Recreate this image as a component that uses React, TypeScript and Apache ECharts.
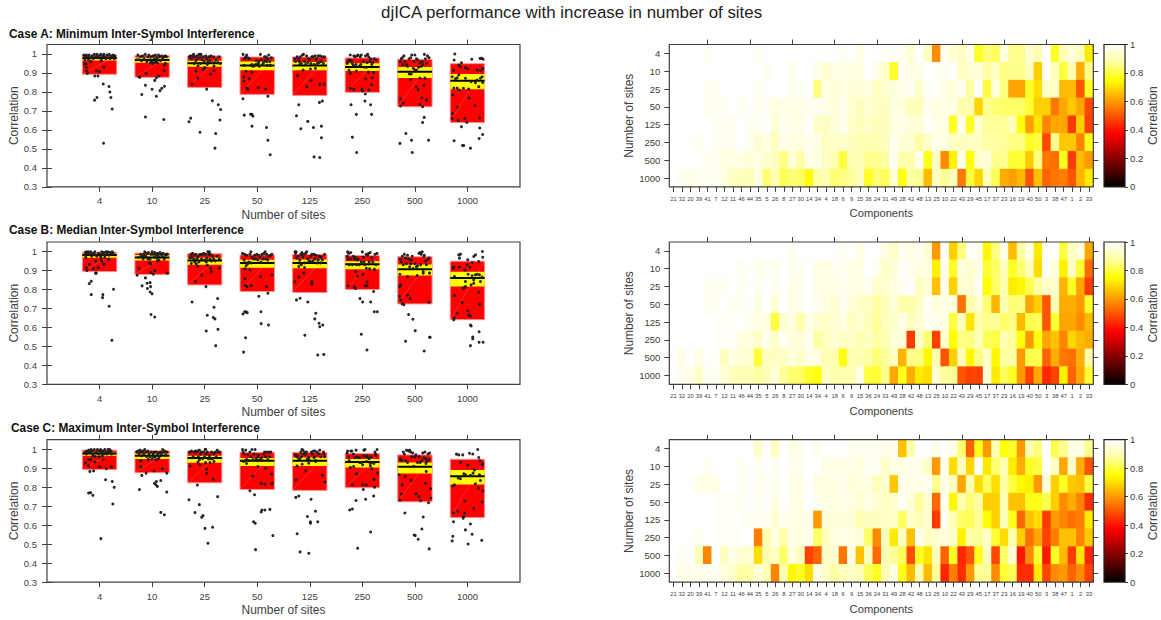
import React, { useEffect, useRef } from "react";
import * as echarts from "echarts";

const FONT = "Liberation Sans";
const INK = "#404040";
const sites = ["4", "10", "25", "50", "125", "250", "500", "1000"];
const components = ["21","32","20","39","41","7","12","11","46","44","35","5","26","8","27","30","14","34","4","18","6","9","15","36","24","31","49","28","42","48","13","25","10","22","43","29","45","17","37","23","16","19","40","50","3","38","47","1","2","33"];
const yTicks = [0.3, 0.4, 0.5, 0.6, 0.7, 0.8, 0.9, 1];
const xTicks = [1, 2, 3, 4, 5, 6, 7, 8];
const cases = ["Case A: Minimum Inter-Symbol Interference", "Case B: Median Inter-Symbol Interference", "Case C: Maximum Inter-Symbol Interference"];

const boxTopA = [.993,.991,.989,.984,.984,.979,.972,.949];
const boxBottomA = [.893,.877,.824,.787,.782,.798,.722,.639];
const ciTopA = [.986,.982,.965,.96,.958,.951,.931,.895];
const ciBottomA = [.966,.954,.933,.914,.914,.91,.873,.814];
const meanA = [.979,.968,.951,.94,.94,.931,.907,.859];
const boxTopB = [.996,.991,.988,.982,.984,.979,.972,.949];
const boxBottomB = [.894,.879,.824,.789,.784,.8,.724,.641];
const ciTopB = [.989,.981,.967,.956,.958,.949,.931,.893];
const ciBottomB = [.967,.953,.93,.914,.912,.907,.873,.815];
const meanB = [.981,.968,.953,.94,.94,.933,.907,.86];
const boxTopC = [.995,.991,.988,.983,.983,.977,.97,.947];
const boxBottomC = [.893,.876,.823,.788,.783,.797,.723,.64];
const ciTopC = [.984,.977,.965,.954,.956,.949,.93,.891];
const ciBottomC = [.965,.949,.928,.912,.911,.904,.872,.814];
const meanC = [.977,.965,.953,.939,.939,.932,.907,.858];

const dotsA = [
[[.076,.53],[-.095,.757],[-.05,.771],[.07,.842],[.18,.829],[.196,.8],[.215,.771],[.24,.71],[-.09,.884],[-.03,.884],[-.23,.898],[-.06,.912],[0,.907],[-.24,.91],[.08,.931],[-.25,.93],[-.165,.96],[-.29,.948],[-.26,.948],[-.28,.97],[-.3,.995],[-.27,.985],[-.25,.995],[-.22,.985],[-.2,.995],[-.17,.98],[-.14,.99],[-.12,.975],[-.1,.998],[-.07,.985],[-.05,.998],[-.03,.98],[-.01,.99],[.02,.998],[.04,.975],[.06,.99],[.08,.998],[.1,.985],[.12,.975],[.14,.995],[.16,.98],[.18,.998],[.2,.975],[.22,.99],[.24,.985],[.26,.995],[.28,.975],[.29,.99],[-.21,.97],[.03,.965]],
[[-.127,.668],[.222,.655],[-.196,.787],[-.127,.835],[0,.814],[.082,.777],[.15,.807],[.184,.819],[.234,.83],[.133,.884],[.082,.875],[.05,.861],[.228,.912],[-.247,.88],[-.235,.877],[-.114,.898],[.234,.942],[.253,.951],[-.27,.995],[-.25,.97],[-.22,.985],[-.2,.965],[-.18,.99],[-.15,.975],[-.13,.998],[-.1,.96],[-.08,.985],[-.06,.995],[-.04,.97],[-.02,.985],[0,.96],[.02,.99],[.04,.975],[.06,.995],[.07,.96],[.09,.98],[.11,.97],[.12,.995],[.14,.985],[.16,.965],[.18,.99],[.2,.975],[.22,.985],[.25,.99],[-.29,.97],[.27,.985],[.01,.95],[.05,.955],[-.03,.955],[.1,.955]],
[[-.298,.643],[-.266,.662],[-.089,.588],[.21,.581],[.196,.504],[.29,.652],[.304,.708],[.26,.733],[.146,.754],[.038,.815],[-.24,.842],[-.127,.873],[.114,.893],[-.165,.909],[-.025,.919],[0,.928],[.177,.912],[.177,.937],[-.127,.938],[-.29,.985],[-.27,.99],[-.25,.975],[-.23,.99],[-.21,.998],[-.19,.985],[-.17,.965],[-.15,.99],[-.13,.975],[-.11,.998],[-.09,.985],[-.07,.998],[-.05,.97],[-.03,.985],[-.01,.96],[.02,.99],[.04,.975],[.06,.96],[.08,.985],[.1,.965],[.12,.99],[.15,.955],[.17,.985],[.2,.955],[.22,.97],[.25,.955],[.27,.985],[.29,.95],[-.2,.95],[-.08,.95],[.05,.945]],
[[.247,.469],[.203,.546],[.177,.613],[-.1,.62],[-.247,.678],[-.127,.683],[-.1,.682],[-.082,.673],[-.272,.764],[.203,.778],[-.177,.815],[-.2,.819],[.02,.822],[.158,.815],[-.253,.88],[-.253,.858],[-.152,.87],[-.215,.909],[-.1,.905],[-.27,.998],[-.24,.975],[-.22,.985],[-.2,.995],[-.18,.98],[-.15,.975],[-.12,.94],[-.1,.945],[-.08,.935],[-.05,.94],[-.03,.945],[0,.945],[.02,.95],[.04,.935],[.06,.998],[.08,.97],[.1,.945],[.12,.955],[.14,.985],[.15,.965],[.17,.985],[.19,.94],[.2,.975],[.22,.995],[.24,.96],[.25,.94],[.27,.98],[-.25,.94],[.03,.96],[-.02,.965],[.18,.96]],
[[.082,.458],[.19,.455],[-.171,.606],[.07,.613],[.222,.62],[.222,.559],[-.038,.645],[-.253,.675],[-.21,.733],[.184,.745],[.24,.752],[.025,.861],[-.057,.828],[.19,.84],[.272,.84],[-.234,.886],[-.127,.916],[.013,.921],[.108,.924],[-.29,.975],[-.27,.96],[-.24,.985],[-.22,.975],[-.2,.96],[-.18,.985],[-.16,.95],[-.14,.995],[-.12,.998],[-.1,.96],[-.08,.945],[-.06,.99],[-.04,.955],[-.02,.975],[0,.97],[.02,.95],[.04,.985],[.06,.985],[.08,.945],[.1,.99],[.12,.97],[.14,.95],[.16,.99],[.18,.955],[.2,.99],[.22,.96],[.24,.985],[.26,.95],[.28,.985],[.13,.975],[-.19,.945]],
[[-.108,.481],[-.19,.562],[-.114,.682],[.177,.682],[-.215,.733],[.05,.752],[.158,.733],[.057,.789],[-.228,.819],[-.165,.814],[-.006,.814],[0,.805],[.12,.81],[.177,.838],[.063,.868],[.19,.875],[-.228,.898],[-.114,.91],[.114,.905],[.215,.903],[-.253,.914],[-.29,.95],[-.27,.96],[-.25,.97],[-.23,.995],[-.21,.965],[-.19,.95],[-.16,.99],[-.14,.985],[-.12,.945],[-.1,.99],[-.08,.995],[-.06,.935],[-.04,.985],[-.02,.995],[.02,.96],[.04,.93],[.06,.99],[.09,.955],[.1,.998],[.12,.985],[.14,.96],[.16,.975],[.2,.955],[.23,.975],[.26,.97],[.08,.93],[-.03,.945],[.18,.945],[-.17,.94]],
[[-.285,.529],[-.05,.481],[-.171,.581],[-.063,.546],[.26,.546],[.146,.639],[.177,.666],[-.272,.726],[-.222,.741],[-.272,.763],[.146,.722],[.095,.734],[.133,.768],[.222,.757],[.171,.835],[.025,.826],[.063,.812],[-.082,.866],[.095,.873],[.19,.873],[-.108,.895],[-.07,.895],[0,.916],[-.28,.96],[-.26,.975],[-.24,.98],[-.21,.99],[-.19,.96],[-.16,.945],[-.14,.935],[-.11,.975],[-.08,.98],[-.06,.995],[-.02,.96],[0,.995],[.03,.975],[.05,.97],[.07,.93],[.1,.955],[.12,.935],[.14,.96],[.18,.998],[.2,.975],[.24,.99],[.27,.98],[.15,.945],[-.03,.925],[.03,.915],[.23,.95],[-.23,.945]],
[[-.253,.543],[-.095,.518],[-.07,.518],[.057,.504],[.222,.555],[.29,.576],[.234,.61],[-.114,.617],[-.013,.639],[-.05,.66],[.234,.664],[-.177,.65],[-.29,.66],[-.285,.687],[-.196,.72],[.14,.729],[.032,.768],[-.279,.784],[-.152,.81],[-.076,.819],[.025,.815],[-.266,.914],[-.29,.88],[-.196,.875],[-.228,.87],[-.165,.889],[-.038,.928],[.006,.921],[.247,.912],[.184,.916],[.291,.923],[.247,.872],[.184,.863],[.152,.849],[.279,.88],[-.133,.933],[-.165,.942],[-.114,.954],[.082,.972],[-.253,.968],[-.24,1],[.24,.977],[.272,.977],[.298,.972],[-.038,.872],[-.26,.82],[.07,.854],[-.196,.82],[.215,.828],[.29,.85]],
];
const dotsB = [
[[.234,.532],[.184,.712],[.266,.801],[.057,.757],[.063,.773],[-.158,.773],[-.196,.831],[-.158,.843],[-.076,.886],[-.063,.886],[-.24,.9],[-.253,.914],[-.114,.91],[-.03,.914],[-.196,.933],[-.076,.949],[.044,.949],[.082,.933],[.171,.96],[-.28,.98],[-.27,.995],[-.25,.998],[-.23,.99],[-.21,.998],[-.19,.985],[-.17,.998],[-.15,.975],[-.13,.99],[-.11,.985],[-.09,.998],[-.07,.98],[-.05,.975],[-.02,.99],[0,.985],[.02,.975],[.04,.998],[.06,.985],[.08,.995],[.1,.98],[.12,.998],[.14,.985],[.16,.998],[.18,.98],[.2,.995],[.22,.985],[.24,.998],[.26,.99],[-.26,.97],[.1,.97],[.03,.965]],
[[-.02,.668],[.05,.655],[0,.777],[-.038,.787],[-.089,.805],[-.03,.815],[-.19,.819],[-.095,.833],[-.038,.836],[-.127,.861],[-.285,.875],[-.247,.91],[-.02,.889],[.025,.88],[.05,.9],[.291,.886],[-.26,.97],[-.22,.985],[-.2,.975],[-.17,.96],[-.16,.985],[-.14,.998],[-.12,.975],[-.1,.99],[-.08,.96],[-.07,.995],[-.05,.94],[-.03,.935],[-.02,.985],[0,.998],[.02,.985],[.04,.97],[.05,.995],[.07,.98],[.09,.965],[.1,.99],[.12,.975],[.13,.955],[.15,.995],[.17,.985],[.19,.975],[.21,.99],[.23,.96],[.25,.98],[.27,.985],[.29,.985],[-.04,.96],[.1,.95],[.11,.985],[-.15,.975]],
[[.03,.581],[.21,.504],[.253,.59],[.05,.664],[.165,.652],[.196,.645],[.177,.706],[.247,.752],[-.24,.734],[.025,.815],[-.171,.843],[-.057,.875],[.127,.894],[-.127,.921],[.05,.928],[.114,.912],[.279,.912],[-.158,.935],[-.253,.937],[-.28,.965],[-.26,.985],[-.25,.97],[-.23,.99],[-.21,.96],[-.19,.98],[-.17,.985],[-.15,.96],[-.13,.97],[-.1,.98],[-.08,.985],[-.06,.96],[-.04,.985],[-.02,.99],[0,.955],[.02,.985],[.04,.965],[.06,.998],[.08,.985],[.09,.998],[.1,.96],[.11,.985],[.13,.95],[.15,.975],[.17,.96],[.2,.95],[.24,.975],[.28,.96],[-.11,.945],[.03,.945],[-.19,.945]],
[[-.26,.47],[-.222,.546],[-.272,.671],[-.24,.682],[-.19,.678],[-.215,.682],[.07,.683],[.076,.62],[.215,.613],[.03,.764],[.203,.78],[.177,.815],[-.222,.82],[-.19,.815],[-.114,.82],[-.234,.858],[.063,.868],[.285,.877],[-.234,.909],[-.139,.903],[-.28,.99],[-.25,.955],[-.24,.985],[-.22,.94],[-.2,.98],[-.18,.935],[-.16,.945],[-.14,.985],[-.12,.998],[-.1,.97],[-.07,.96],[-.05,.98],[-.03,.96],[-.01,.985],[.01,.955],[.03,.98],[.05,.97],[.07,.945],[.09,.985],[.11,.96],[.13,.99],[.15,.998],[.16,.96],[.18,.985],[.2,.955],[.22,.975],[.25,.98],[.28,.985],[-.21,.925],[-.12,.94]],
[[.152,.455],[.266,.458],[-.095,.559],[.19,.604],[.247,.613],[.177,.622],[.095,.645],[.114,.675],[-.038,.734],[-.184,.754],[-.253,.745],[.038,.84],[.038,.829],[-.285,.84],[-.209,.865],[-.114,.886],[-.209,.921],[-.101,.916],[-.28,.998],[-.26,.998],[-.27,.99],[-.25,.965],[-.22,.975],[-.19,.955],[-.17,.985],[-.15,.995],[-.13,.97],[-.12,.985],[-.1,.94],[-.08,.99],[-.06,.998],[-.04,.96],[-.02,.945],[0,.95],[.02,.975],[.04,.985],[.06,.95],[.08,.985],[.1,.96],[.12,.98],[.14,.94],[.16,.955],[.18,.975],[.2,.94],[.24,.955],[.28,.985],[-.2,.94],[.05,.945],[.22,.97],[-.16,.93]],
[[.089,.481],[-.019,.564],[.228,.683],[.285,.683],[-.044,.752],[.006,.734],[.158,.734],[.215,.789],[-.272,.819],[-.152,.815],[-.133,.805],[.057,.819],[.089,.819],[.089,.84],[-.089,.87],[.006,.88],[-.127,.894],[.228,.907],[.139,.909],[.076,.912],[-.28,.998],[-.29,.975],[-.27,.96],[-.26,.99],[-.25,.93],[-.22,.96],[-.22,.995],[-.19,.93],[-.17,.975],[-.15,.96],[-.13,.97],[-.1,.955],[-.08,.96],[-.06,.93],[-.02,.945],[0,.998],[.02,.97],[.03,.945],[.07,.985],[.1,.98],[.12,.99],[.13,.945],[.15,.995],[.18,.965],[.2,.945],[.24,.985],[.28,.99],[.26,.93],[-.11,.93],[.05,.93]],
[[.177,.476],[-.177,.527],[.279,.548],[.291,.548],[.006,.583],[-.12,.668],[-.038,.643],[-.209,.72],[-.24,.724],[-.272,.745],[-.291,.764],[-.089,.752],[-.139,.77],[.266,.733],[-.29,.815],[-.272,.824],[-.139,.868],[.044,.873],[-.285,.88],[.158,.886],[.279,.886],[.158,.894],[-.28,.96],[-.26,.945],[-.24,.975],[-.22,.93],[-.2,.985],[-.18,.965],[-.16,.935],[-.14,.98],[-.12,.96],[-.1,.92],[-.08,.935],[-.05,.975],[-.03,.91],[0,.935],[.03,.92],[.08,.99],[.1,.995],[.12,.985],[.14,.998],[.17,.975],[.2,.95],[.22,.93],[.24,.955],[.27,.965],[.18,.98],[-.07,.955],[.05,.925],[.11,.93]],
[[.057,.504],[.222,.522],[.298,.522],[.101,.55],[.101,.54],[.222,.577],[.057,.613],[.07,.608],[-.26,.64],[-.247,.65],[-.196,.675],[-.101,.731],[.006,.689],[.025,.666],[.057,.66],[-.247,.768],[.234,.722],[.215,.785],[-.057,.81],[-.038,.815],[-.272,.912],[-.26,.92],[-.152,.917],[-.247,.868],[-.152,.965],[-.165,.982],[-.133,.986],[.006,.956],[.12,.974],[.152,.982],[.291,.97],[.285,1],[.215,.947],[.089,.942],[-.006,.93],[.044,.917],[-.05,.903],[.013,.88],[.089,.872],[.152,.877],[.184,.88],[.228,.877],[.279,.865],[.12,.85],[-.038,.842],[.07,.824],[-.082,.807],[.12,.833],[.247,.842]],
];
const dotsC = [
[[.025,.529],[.253,.711],[.279,.799],[.241,.83],[.114,.839],[-.209,.769],[-.171,.771],[-.127,.757],[-.184,.883],[-.114,.886],[.127,.897],[0,.907],[.222,.907],[-.209,.912],[-.266,.928],[-.089,.932],[.07,.947],[-.209,.946],[-.165,.946],[-.082,.961],[-.27,.985],[-.25,.975],[-.24,.99],[-.22,.985],[-.2,.995],[-.18,.98],[-.16,.998],[-.14,.99],[-.12,.975],[-.1,.998],[-.06,.985],[-.04,.998],[-.02,.975],[0,.99],[.02,.998],[.04,.98],[.06,.99],[.08,.975],[.1,.998],[.12,.985],[.14,.975],[.16,.998],[.17,.985],[.19,.998],[.2,.98],[.22,.99],[.23,.975],[.05,.965],[-.13,.965],[-.01,.96]],
[[.165,.667],[.234,.655],[-.241,.788],[.044,.821],[.07,.813],[.1,.804],[.082,.83],[.165,.835],[.279,.774],[-.196,.862],[-.114,.874],[.038,.886],[.196,.897],[.279,.874],[-.215,.907],[-.215,.939],[-.29,.985],[-.27,.99],[-.25,.975],[-.23,.995],[-.21,.985],[-.2,.965],[-.18,.99],[-.16,.975],[-.14,.998],[-.12,.985],[-.1,.96],[-.08,.99],[-.06,.975],[-.04,.96],[-.02,.985],[0,.95],[.02,.975],[.04,.985],[.06,.96],[.08,.985],[.1,.97],[.12,.95],[.14,.96],[.16,.985],[.18,.975],[.2,.998],[.22,.985],[.24,.99],[.26,.97],[.28,.985],[.07,.945],[-.07,.945],[.13,.98],[.03,.96]],
[[.063,.505],[.006,.583],[.152,.589],[-.057,.641],[-.032,.65],[-.184,.666],[-.101,.708],[-.298,.734],[.247,.75],[-.139,.811],[.165,.842],[.038,.872],[.038,.895],[-.279,.912],[-.095,.918],[-.127,.932],[.177,.935],[.019,.93],[-.29,.985],[-.27,.985],[-.25,.99],[-.22,.96],[-.2,.985],[-.18,.99],[-.16,.985],[-.14,.99],[-.12,.96],[-.1,.995],[-.08,.975],[-.06,.985],[-.04,.95],[-.02,.985],[0,.96],[.02,.998],[.03,.975],[.05,.985],[.07,.95],[.09,.965],[.11,.95],[.13,.985],[.15,.95],[.17,.975],[.2,.985],[.22,.96],[.24,.995],[.26,.985],[.29,.985],[-.1,.945],[.1,.93],[.01,1]],
[[-.032,.471],[.298,.545],[-.07,.618],[-.038,.61],[.076,.669],[.089,.68],[.146,.68],[.241,.683],[-.139,.781],[-.051,.76],[.076,.821],[.146,.816],[.279,.818],[.285,.821],[-.089,.858],[.272,.869],[.013,.909],[.158,.9],[-.203,.925],[-.28,.998],[-.27,.985],[-.25,.975],[-.23,.94],[-.22,.995],[-.2,.945],[-.18,.97],[-.16,.94],[-.14,.985],[-.12,.96],[-.1,.998],[-.08,.945],[-.06,.975],[-.04,.998],[-.02,.95],[0,.94],[.02,.97],[.05,.945],[.08,.955],[.1,.94],[.12,.975],[.14,.985],[.16,.96],[.18,.985],[.2,.945],[.22,.985],[.24,.96],[.26,.985],[-.26,.935],[.01,.96]],
[[-.019,.452],[-.184,.459],[-.241,.555],[.152,.618],[.013,.61],[.013,.617],[-.044,.645],[.108,.673],[.025,.736],[-.209,.753],[-.266,.746],[-.266,.839],[.291,.827],[.241,.863],[-.076,.886],[-.241,.912],[-.146,.921],[-.019,.926],[.114,.935],[-.27,.97],[-.25,.96],[-.23,.965],[-.21,.95],[-.19,.95],[-.17,.985],[-.16,.96],[-.15,.998],[-.13,.995],[-.12,.975],[-.1,.985],[-.08,.97],[-.06,.985],[-.04,.95],[-.02,.955],[0,.94],[.03,.985],[.05,.975],[.07,.99],[.08,.955],[.09,.96],[.1,.99],[.12,.94],[.14,.985],[.17,.975],[.19,.995],[.21,.96],[.26,.985],[.28,.96],[.27,.975],[-.05,.945]],
[[-.089,.478],[.158,.564],[-.241,.68],[-.19,.685],[-.12,.73],[.063,.736],[.215,.753],[.019,.788],[.234,.8],[-.19,.813],[.006,.814],[.076,.813],[.222,.841],[-.108,.87],[.291,.874],[.184,.897],[-.228,.904],[-.165,.909],[.006,.918],[.152,.912],[-.29,.98],[-.28,.99],[-.26,.96],[-.25,.94],[-.22,.99],[-.2,.99],[-.17,.975],[-.14,.955],[-.12,.995],[-.1,.96],[-.08,.955],[-.05,.955],[-.02,.93],[.02,.965],[.03,.995],[.05,.998],[.07,.96],[.09,.965],[.11,.955],[.13,.95],[.15,.925],[.17,.96],[.19,.93],[.22,.925],[.24,.985],[.25,.975],[.26,.965],[.28,.998],[.08,.935],[-.05,.93]],
[[.272,.475],[.063,.526],[-.013,.548],[.006,.545],[.133,.58],[.158,.643],[-.19,.664],[-.285,.732],[.025,.765],[.076,.75],[.108,.729],[.26,.718],[.304,.743],[-.26,.764],[-.241,.813],[.298,.792],[-.07,.835],[.203,.821],[-.184,.856],[-.298,.865],[.215,.883],[-.28,.945],[-.27,.95],[-.25,.94],[-.22,.985],[-.2,.975],[-.18,.94],[-.16,.995],[-.14,.93],[-.12,.99],[-.1,.995],[-.08,.985],[-.06,.96],[-.04,.98],[-.02,.91],[0,.96],[.02,.97],[.05,.93],[.08,.96],[.1,.93],[.13,.94],[.15,.98],[.17,.955],[.19,.985],[.21,.95],[.25,.975],[.28,.98],[.21,.925],[.23,.935],[.27,.945]],
[[.013,.501],[.272,.52],[-.291,.517],[-.279,.541],[.089,.552],[-.038,.575],[.057,.606],[-.266,.618],[-.082,.636],[-.07,.645],[-.051,.664],[-.184,.673],[-.266,.664],[.12,.688],[.279,.722],[-.051,.727],[.291,.781],[.215,.795],[-.279,.806],[-.247,.813],[.247,.835],[.152,.818],[-.133,.844],[-.177,.848],[-.038,.865],[.057,.862],[-.07,.87],[.108,.874],[.133,.891],[.228,.865],[.279,.918],[.291,.926],[.234,.939],[.215,.956],[.196,.998],[.101,.975],[.038,.979],[-.089,.97],[-.165,.97],[-.209,.974],[-.127,.93],[.006,.916]],
];

// Percent correlation per site row (4 ... 1000), one value per component in axis order.
const heatA = [
[100,100,100,100,98,100,100,100,100,100,98,100,100,100,100,100,100,100,100,100,98,100,97,100,100,98,100,98,94,100,92,58,98,94,92,97,78,84,82,96,86,86,94,90,100,78,90,95,91,72],
[100,100,100,100,100,100,100,100,100,100,100,98,100,100,98,100,100,97,94,97,97,96,96,100,97,93,78,98,97,97,100,99,98,100,92,94,95,88,92,85,86,86,92,68,100,91,80,90,63,86],
[100,100,100,100,98,98,100,100,100,100,98,100,100,100,98,98,100,85,96,95,96,95,95,96,92,94,95,97,98,93,99,99,96,95,98,88,100,80,96,85,62,62,78,70,93,93,65,65,50,78],
[100,100,100,100,98,98,98,100,98,100,98,98,96,97,97,97,98,98,97,95,98,94,92,94,92,92,96,95,91,91,98,96,96,96,89,90,69,86,84,83,83,83,79,68,68,55,62,67,62,48],
[100,100,100,100,100,98,98,98,100,98,98,100,94,98,97,97,100,93,92,95,98,93,92,93,91,92,96,97,95,95,99,97,96,78,98,78,94,87,87,87,91,76,61,71,57,62,62,46,68,47],
[100,100,100,98,100,98,98,98,100,98,94,96,92,97,96,96,98,96,92,93,93,92,90,90,90,92,98,95,94,88,93,97,96,92,92,92,92,88,88,87,85,85,78,80,48,86,67,67,57,77],
[100,100,100,100,98,98,96,96,96,95,96,94,92,85,95,88,97,96,92,90,80,90,90,86,86,88,98,89,89,98,77,92,58,73,98,75,93,95,86,86,79,79,67,85,55,54,77,46,65,60],
[100,98,97,98,98,98,96,92,91,91,96,84,90,82,84,83,75,88,90,84,85,87,92,78,84,82,94,76,88,87,65,92,87,91,55,80,69,90,82,63,61,65,50,66,52,55,56,50,64,72],
];
const heatB = [
[100,100,100,100,100,100,100,100,100,100,100,100,100,100,98,100,100,100,100,100,98,100,97,100,100,96,93,98,97,98,94,60,100,68,85,99,98,74,85,97,65,88,97,72,100,100,80,92,96,62],
[100,100,100,100,100,100,100,100,98,100,98,98,98,100,98,98,100,97,96,98,98,97,97,100,98,93,95,99,98,96,96,73,98,78,96,94,97,79,83,91,78,84,91,70,100,95,73,92,79,53],
[100,100,100,100,98,98,98,100,98,100,98,100,98,100,97,98,100,97,96,97,98,97,96,98,93,94,96,98,100,92,94,66,98,68,94,94,98,75,83,89,72,74,81,88,93,93,64,78,62,46],
[100,100,100,100,98,98,100,98,98,100,96,100,94,100,97,98,100,98,96,94,98,95,93,92,88,91,95,89,89,92,99,95,97,95,54,89,94,84,64,90,84,85,62,68,50,90,63,63,60,78],
[100,100,100,100,100,99,99,99,100,98,96,96,80,94,96,89,97,94,93,94,96,92,94,91,87,91,93,97,92,94,98,98,96,80,91,71,88,86,87,83,85,65,81,82,50,79,62,62,58,65],
[100,100,100,100,100,99,99,99,96,96,93,98,93,98,95,95,98,88,92,94,92,93,90,92,88,90,95,95,46,92,84,47,94,75,85,85,91,82,80,90,87,76,60,76,62,66,57,69,65,63],
[100,97,100,96,100,99,92,96,95,94,79,92,92,92,96,93,97,96,90,90,76,90,90,88,84,87,92,64,86,85,74,90,50,68,91,74,85,93,74,88,88,60,81,81,52,63,55,54,63,89],
[100,98,97,93,98,98,95,91,90,90,88,91,95,87,84,83,78,76,92,89,89,90,96,80,79,86,62,77,63,72,70,94,87,87,50,47,47,95,72,82,78,60,47,62,43,47,73,52,62,79],
];
const heatC = [
[100,100,100,100,100,100,100,100,100,100,93,100,92,100,97,98,100,98,100,100,100,98,98,98,98,97,98,66,89,100,100,98,100,97,84,52,77,60,90,76,78,60,90,85,100,81,86,96,96,86],
[100,100,100,100,98,100,100,100,98,100,98,100,98,100,98,98,100,100,97,97,97,97,96,98,98,93,96,96,98,97,93,60,98,70,92,69,99,72,84,90,72,63,78,80,100,92,62,93,63,50],
[100,100,100,97,97,97,100,100,98,100,98,98,98,100,97,97,100,96,96,96,98,95,96,96,91,94,67,97,97,97,98,86,97,92,62,90,70,82,70,88,80,74,73,60,95,68,78,67,66,80],
[100,100,100,100,100,99,99,99,98,100,98,100,96,100,97,97,100,98,96,96,97,96,94,97,94,92,94,99,95,87,94,53,98,74,90,84,88,68,68,90,66,66,77,77,81,68,58,63,57,44],
[100,100,100,100,100,99,99,99,99,98,98,98,94,98,97,96,98,60,95,95,95,95,90,92,92,93,93,82,93,91,94,46,98,90,83,82,87,75,68,91,77,53,66,70,46,60,57,54,56,72],
[100,100,100,98,100,99,99,99,99,100,56,90,96,89,97,96,98,83,91,96,97,96,95,83,58,91,72,93,66,98,92,94,95,93,73,89,87,93,79,70,90,68,54,62,47,56,66,66,57,67],
[100,98,100,91,57,99,92,97,94,94,70,90,92,83,96,91,47,52,93,94,55,96,66,92,53,90,87,82,49,78,71,91,52,78,43,50,77,92,48,83,94,41,58,79,41,78,65,46,71,43],
[100,97,98,97,98,98,96,93,88,89,95,90,57,90,74,78,70,96,93,88,91,93,90,82,78,90,96,77,65,90,65,87,43,56,44,60,87,87,58,79,82,44,44,72,48,58,60,52,58,47],
];

const rowTops = [44.5, 242, 439.7];
const titleTops = [23, 219, 417];
const titleLefts = [4, 4, 6];
const colormap = ["#000000", "#550000", "#aa0000", "#ff0000", "#ff5500", "#ffaa00", "#ffff00", "#ffffa0", "#ffffff"];
const HALF = 0.327;

function renderBox(_: any, api: any) {
  const x = api.value(0);
  const tl = api.coord([x - HALF, api.value(1)]);
  const br = api.coord([x + HALF, api.value(2)]);
  const w = br[0] - tl[0];
  const ciTop = api.coord([x, api.value(3)])[1];
  const ciBot = api.coord([x, api.value(4)])[1];
  const mean = api.coord([x, api.value(5)])[1];
  return {
    type: "group",
    children: [
      { type: "rect", shape: { x: tl[0], y: tl[1], width: w, height: br[1] - tl[1] }, style: { fill: "#ff0000", stroke: "#ff8f8f", lineWidth: 1 } },
      { type: "rect", shape: { x: tl[0], y: ciTop, width: w, height: ciBot - ciTop }, style: { fill: "#ffff00" } },
      { type: "line", shape: { x1: tl[0], y1: br[1], x2: br[0], y2: tl[1] }, style: { stroke: "rgba(255,255,255,0.25)", lineWidth: 0.7 } },
      { type: "line", shape: { x1: tl[0], y1: mean, x2: br[0], y2: mean }, style: { stroke: "#000000", lineWidth: 2 } },
    ],
  };
}

const tickStyle = { lineStyle: { color: INK, width: 1 } };

function buildOption() {
  const grid: any[] = [];
  const xAxis: any[] = [];
  const yAxis: any[] = [];
  const series: any[] = [];
  const heatIndexes: number[] = [];
  const title: any[] = [
    { text: "djICA performance with increase in number of sites", left: 376, top: -1.5, textStyle: { fontSize: 16.9, fontWeight: "normal", color: "#222", fontFamily: FONT } },
  ];
  const groupsDots = [dotsA, dotsB, dotsC];
  const stats = [
    [boxTopA, boxBottomA, ciTopA, ciBottomA, meanA],
    [boxTopB, boxBottomB, ciTopB, ciBottomB, meanB],
    [boxTopC, boxBottomC, ciTopC, ciBottomC, meanC],
  ];
  const heats = [heatA, heatB, heatC];
  const H = 142.4;

  rowTops.forEach((top, r) => {
    title.push({ text: cases[r], left: titleLefts[r], top: titleTops[r], textStyle: { fontSize: 11.85, fontWeight: "bold", color: "#111", fontFamily: FONT } });

    // box / jitter panel
    const g1 = grid.length;
    grid.push({ left: 47, top, width: 473, height: H, show: true, borderColor: INK, borderWidth: 1.2, backgroundColor: "transparent", z: 10 });
    const xA = xAxis.length;
    const baseX = { type: "value", min: 0, max: 9, gridIndex: g1, splitLine: { show: false }, axisLine: { show: false }, z: 10 };
    xAxis.push({
      ...baseX, position: "bottom", name: "Number of sites", nameLocation: "middle", nameGap: 22,
      nameTextStyle: { fontSize: 12, color: INK, fontFamily: FONT },
      axisTick: { show: true, length: 5, customValues: xTicks, ...tickStyle },
      axisLabel: { show: true, margin: 9, fontSize: 9.5, color: INK, fontFamily: FONT, customValues: xTicks, formatter: (v: number) => sites[v - 1] ?? "" },
    });
    xAxis.push({ ...baseX, position: "top", axisTick: { show: true, length: 5, customValues: xTicks, ...tickStyle }, axisLabel: { show: false } });
    const yA = yAxis.length;
    const baseY = { type: "value", min: 0.3, max: 1.05, gridIndex: g1, splitLine: { show: false }, axisLine: { show: false }, z: 10 };
    yAxis.push({
      ...baseY, position: "left", name: "Correlation", nameLocation: "middle", nameGap: 27, nameRotate: 90,
      nameTextStyle: { fontSize: 12, color: INK, fontFamily: FONT },
      axisTick: { show: true, length: 5, customValues: yTicks, ...tickStyle },
      axisLabel: { show: true, margin: 10, fontSize: 9.5, color: INK, fontFamily: FONT, customValues: yTicks, formatter: (v: number) => String(v) },
    });
    yAxis.push({ ...baseY, position: "right", axisTick: { show: true, length: 5, customValues: yTicks, ...tickStyle }, axisLabel: { show: false } });

    const st = stats[r];
    series.push({
      type: "custom", xAxisIndex: xA, yAxisIndex: yA, renderItem: renderBox, silent: true,
      encode: { x: 0, y: [1, 2, 3, 4, 5] },
      data: sites.map((_, i) => [i + 1, st[0][i], st[1][i], st[2][i], st[3][i], st[4][i]]),
    });
    const pts: number[][] = [];
    groupsDots[r].forEach((grp, i) => grp.forEach((p) => pts.push([i + 1 + p[0], p[1]])));
    series.push({ type: "scatter", xAxisIndex: xA, yAxisIndex: yA, symbolSize: 3, silent: true, itemStyle: { color: "#1c1c1c", opacity: 0.95 }, data: pts });

    // heatmap panel
    const g2 = grid.length;
    grid.push({ left: 669.3, top, width: 424, height: H, show: true, borderColor: INK, borderWidth: 1.2, backgroundColor: "transparent", z: 10 });
    const hx = xAxis.length;
    const cx = { type: "category", data: components, gridIndex: g2, splitLine: { show: false }, splitArea: { show: false }, axisLine: { show: false }, z: 10 };
    xAxis.push({
      ...cx, position: "bottom", name: "Components", nameLocation: "middle", nameGap: 21,
      nameTextStyle: { fontSize: 11.2, color: INK, fontFamily: FONT },
      axisTick: { show: true, length: 5, alignWithLabel: true, interval: 0, ...tickStyle },
      axisLabel: { show: true, interval: 0, margin: 9, fontSize: 5.8, color: INK, fontFamily: FONT, hideOverlap: false },
    });
    xAxis.push({
      ...cx, position: "top",
      axisTick: { show: true, length: 5, alignWithLabel: true, interval: (i: number) => (i + 1) % 5 === 0, ...tickStyle },
      axisLabel: { show: false },
    });
    const hy = yAxis.length;
    const cy = { type: "category", data: sites, inverse: true, gridIndex: g2, splitLine: { show: false }, splitArea: { show: false }, axisLine: { show: false }, z: 10 };
    yAxis.push({
      ...cy, position: "left", name: "Number of sites", nameLocation: "middle", nameGap: 33, nameRotate: 90,
      nameTextStyle: { fontSize: 12, color: INK, fontFamily: FONT },
      axisTick: { show: true, length: 5, alignWithLabel: true, interval: 0, ...tickStyle },
      axisLabel: { show: true, interval: 0, margin: 9, fontSize: 9.5, color: INK, fontFamily: FONT },
    });
    yAxis.push({ ...cy, position: "right", axisTick: { show: true, length: 5, alignWithLabel: true, interval: 0, ...tickStyle }, axisLabel: { show: false } });
    const data: number[][] = [];
    heats[r].forEach((row, ri) => row.forEach((v, ci) => data.push([ci, ri, v / 100])));
    heatIndexes.push(series.length);
    series.push({ type: "heatmap", xAxisIndex: hx, yAxisIndex: hy, silent: true, itemStyle: { borderWidth: 0 }, data, progressive: 0 });

    // colour bar
    const g3 = grid.length;
    grid.push({ left: 1104, top, width: 21, height: H, show: true, borderColor: "#222", borderWidth: 1.2, backgroundColor: "transparent", z: 10 });
    const bx = xAxis.length;
    xAxis.push({ type: "category", data: [""], gridIndex: g3, show: false });
    const by = yAxis.length;
    const barTicks = [0, 0.2, 0.4, 0.6, 0.8, 1];
    yAxis.push({
      type: "value", min: 0, max: 1, interval: 0.2, gridIndex: g3, position: "right", splitLine: { show: false },
      axisLine: { show: false }, name: "Correlation", nameLocation: "middle", nameGap: 22, nameRotate: 90,
      nameTextStyle: { fontSize: 12, color: INK, fontFamily: FONT },
      axisTick: { show: true, length: 3, customValues: barTicks, ...tickStyle },
      axisLabel: { show: true, margin: 5, fontSize: 9.5, color: INK, fontFamily: FONT, customValues: barTicks, formatter: (v: number) => String(v) },
    });
    series.push({
      type: "bar", xAxisIndex: bx, yAxisIndex: by, barWidth: "100%", silent: true, data: [1],
      itemStyle: {
        color: {
          type: "linear", x: 0, y: 1, x2: 0, y2: 0,
          colorStops: colormap.map((c, i) => ({ offset: i / (colormap.length - 1), color: c })),
        },
      },
    });
  });

  return {
    animation: false,
    backgroundColor: "#ffffff",
    textStyle: { fontFamily: FONT },
    title,
    grid,
    xAxis,
    yAxis,
    visualMap: { type: "continuous", show: false, min: 0, max: 1, seriesIndex: heatIndexes, inRange: { color: colormap } },
    series,
  };
}

export default function App() {
  const ref = useRef<HTMLDivElement>(null);
  useEffect(() => {
    const chart = echarts.init(ref.current!, undefined, { renderer: "svg" });
    chart.setOption(buildOption() as any);
    return () => chart.dispose();
  }, []);
  return <div ref={ref} style={{ position: "absolute", left: 0, top: 0, width: 1161, height: 620 }} />;
}
